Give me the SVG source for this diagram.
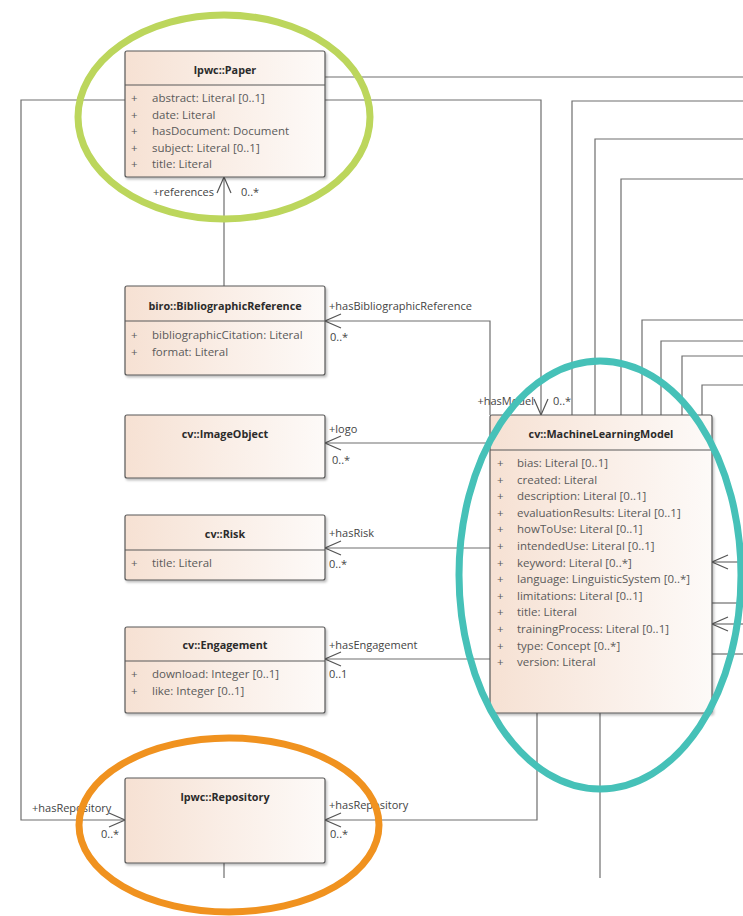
<svg xmlns="http://www.w3.org/2000/svg" width="743" height="916" viewBox="0 0 743 916">
  <defs>
    <linearGradient id="boxFill" x1="0" y1="0" x2="1" y2="0">
      <stop offset="0" stop-color="#f6e1d3"/>
      <stop offset="0.55" stop-color="#faefe8"/>
      <stop offset="1" stop-color="#fdfaf8"/>
    </linearGradient>
    <filter id="shadow" x="-5%" y="-5%" width="112%" height="115%">
      <feDropShadow dx="1.5" dy="2" stdDeviation="1.2" flood-color="#000" flood-opacity="0.25"/>
    </filter>
    <marker id="open" viewBox="0 0 18 16" refX="17" refY="8" markerWidth="18" markerHeight="16" markerUnits="userSpaceOnUse" orient="auto">
      <path d="M1,1 L17,8 L1,15" fill="none" stroke="#555" stroke-width="1.2"/>
    </marker>
    <style>
      .box { fill: url(#boxFill); stroke: #595959; stroke-width: 1.2; filter: url(#shadow); }
      .div { stroke: #595959; stroke-width: 1.2; }
      .title { font-family: "Open Sans", "Noto Sans", sans-serif; font-size: 10.8px; font-weight: bold; fill: #2b2b2b; text-anchor: middle; }
      .attr { font-family: "Open Sans", "Noto Sans", sans-serif; font-size: 11.5px; fill: #5a5a5a; }
      .lbl { font-family: "Open Sans", "Noto Sans", sans-serif; font-size: 11px; fill: #444; }
      .end { text-anchor: end; }
      .wire { fill: none; stroke: #6e6e6e; stroke-width: 1.2; }
      .arr { marker-end: url(#open); }
      .ring { fill: none; stroke-width: 7; }
    </style>
  </defs>

  <rect width="743" height="916" fill="#fff"/>

  <!-- associations -->
  <g id="connectors">
    <path class="wire arr" d="M224,286 V177"/>
    <path class="wire arr" d="M325,100 H541 V415"/>
    <path class="wire arr" d="M125,100 H21 V820 H125"/>
    <path class="wire arr" d="M490,415 V321 H325"/>
    <path class="wire arr" d="M490,443 H325"/>
    <path class="wire arr" d="M490,548 H325"/>
    <path class="wire arr" d="M490,659 H325"/>
    <path class="wire arr" d="M537,713 V820 H325"/>
    <path class="wire" d="M600,713 V878"/>
    <path class="wire" d="M224,863 V878"/>
    <path class="wire" d="M325,77 H743"/>
    <path class="wire" d="M572,415 V101 H743"/>
    <path class="wire" d="M595,415 V139 H743"/>
    <path class="wire" d="M621,415 V179 H743"/>
    <path class="wire" d="M642,415 V320 H743"/>
    <path class="wire" d="M661,415 V341 H743"/>
    <path class="wire" d="M682,415 V356 H743"/>
    <path class="wire" d="M702,415 V385 H743"/>
    <path class="wire arr" d="M743,562 H712"/>
    <path class="wire" d="M712,603 H743"/>
    <path class="wire arr" d="M743,624 H712"/>
    <path class="wire" d="M712,654 H743"/>

    <text class="lbl end" x="214" y="196">+references</text>
    <text class="lbl" x="241" y="196">0..*</text>
    <text class="lbl" x="329" y="310">+hasBibliographicReference</text>
    <text class="lbl" x="330" y="341">0..*</text>
    <text class="lbl" x="329" y="433">+logo</text>
    <text class="lbl" x="332" y="464">0..*</text>
    <text class="lbl" x="329" y="537">+hasRisk</text>
    <text class="lbl" x="329" y="568">0..*</text>
    <text class="lbl" x="329" y="649">+hasEngagement</text>
    <text class="lbl" x="329" y="678">0..1</text>
    <text class="lbl end" x="534" y="405">+hasModel</text>
    <text class="lbl" x="553" y="405">0..*</text>
    <text class="lbl" x="32" y="812">+hasRepository</text>
    <text class="lbl" x="101" y="838">0..*</text>
    <text class="lbl" x="329" y="809">+hasRepository</text>
    <text class="lbl" x="330" y="838">0..*</text>
  </g>

  <!-- classes -->
  <g id="paper">
    <rect class="box" x="125" y="51" width="200" height="126" rx="2"/>
    <line class="div" x1="125" y1="85" x2="325" y2="85"/>
    <text class="title" x="225" y="74">lpwc::Paper</text>
    <g class="attr">
      <text x="131" y="102">+</text><text x="152" y="102">abstract: Literal [0..1]</text>
      <text x="131" y="118.5">+</text><text x="152" y="118.5">date: Literal</text>
      <text x="131" y="135">+</text><text x="152" y="135">hasDocument: Document</text>
      <text x="131" y="151.5">+</text><text x="152" y="151.5">subject: Literal [0..1]</text>
      <text x="131" y="168">+</text><text x="152" y="168">title: Literal</text>
    </g>
  </g>

  <g id="bibliographic-reference">
    <rect class="box" x="125" y="286" width="200" height="89" rx="2"/>
    <line class="div" x1="125" y1="321" x2="325" y2="321"/>
    <text class="title" x="225" y="310">biro::BibliographicReference</text>
    <g class="attr">
      <text x="131" y="338.5">+</text><text x="152" y="338.5">bibliographicCitation: Literal</text>
      <text x="131" y="355.5">+</text><text x="152" y="355.5">format: Literal</text>
    </g>
  </g>

  <g id="image-object">
    <rect class="box" x="125" y="415" width="200" height="63" rx="2"/>
    <text class="title" x="225" y="438">cv::ImageObject</text>
  </g>

  <g id="risk">
    <rect class="box" x="125" y="515" width="200" height="65" rx="2"/>
    <line class="div" x1="125" y1="550" x2="325" y2="550"/>
    <text class="title" x="225" y="538">cv::Risk</text>
    <g class="attr">
      <text x="131" y="567">+</text><text x="152" y="567">title: Literal</text>
    </g>
  </g>

  <g id="engagement">
    <rect class="box" x="125" y="627" width="200" height="86" rx="2"/>
    <line class="div" x1="125" y1="661" x2="325" y2="661"/>
    <text class="title" x="225" y="649">cv::Engagement</text>
    <g class="attr">
      <text x="131" y="678">+</text><text x="152" y="678">download: Integer [0..1]</text>
      <text x="131" y="695">+</text><text x="152" y="695">like: Integer [0..1]</text>
    </g>
  </g>

  <g id="repository">
    <rect class="box" x="125" y="778" width="200" height="85" rx="2"/>
    <text class="title" x="225" y="801">lpwc::Repository</text>
  </g>

  <g id="machine-learning-model">
    <rect class="box" x="490" y="415" width="222" height="298" rx="2"/>
    <line class="div" x1="490" y1="450" x2="712" y2="450"/>
    <text class="title" x="601" y="438">cv::MachineLearningModel</text>
    <g class="attr">
      <text x="497" y="467">+</text><text x="517" y="467">bias: Literal [0..1]</text>
      <text x="497" y="483.6">+</text><text x="517" y="483.6">created: Literal</text>
      <text x="497" y="500.2">+</text><text x="517" y="500.2">description: Literal [0..1]</text>
      <text x="497" y="516.8">+</text><text x="517" y="516.8">evaluationResults: Literal [0..1]</text>
      <text x="497" y="533.4">+</text><text x="517" y="533.4">howToUse: Literal [0..1]</text>
      <text x="497" y="550">+</text><text x="517" y="550">intendedUse: Literal [0..1]</text>
      <text x="497" y="566.6">+</text><text x="517" y="566.6">keyword: Literal [0..*]</text>
      <text x="497" y="583.2">+</text><text x="517" y="583.2">language: LinguisticSystem [0..*]</text>
      <text x="497" y="599.8">+</text><text x="517" y="599.8">limitations: Literal [0..1]</text>
      <text x="497" y="616.4">+</text><text x="517" y="616.4">title: Literal</text>
      <text x="497" y="633">+</text><text x="517" y="633">trainingProcess: Literal [0..1]</text>
      <text x="497" y="649.6">+</text><text x="517" y="649.6">type: Concept [0..*]</text>
      <text x="497" y="666.2">+</text><text x="517" y="666.2">version: Literal</text>
    </g>
  </g>

  <!-- highlight rings -->
  <g id="highlights">
    <ellipse class="ring" cx="224" cy="117" rx="146" ry="102" stroke="#bcd65c"/>
    <ellipse class="ring" cx="600" cy="575" rx="141" ry="214" stroke="#46c1b8"/>
    <ellipse class="ring" cx="229" cy="825" rx="150" ry="87" stroke="#f0921f"/>
  </g>
</svg>
